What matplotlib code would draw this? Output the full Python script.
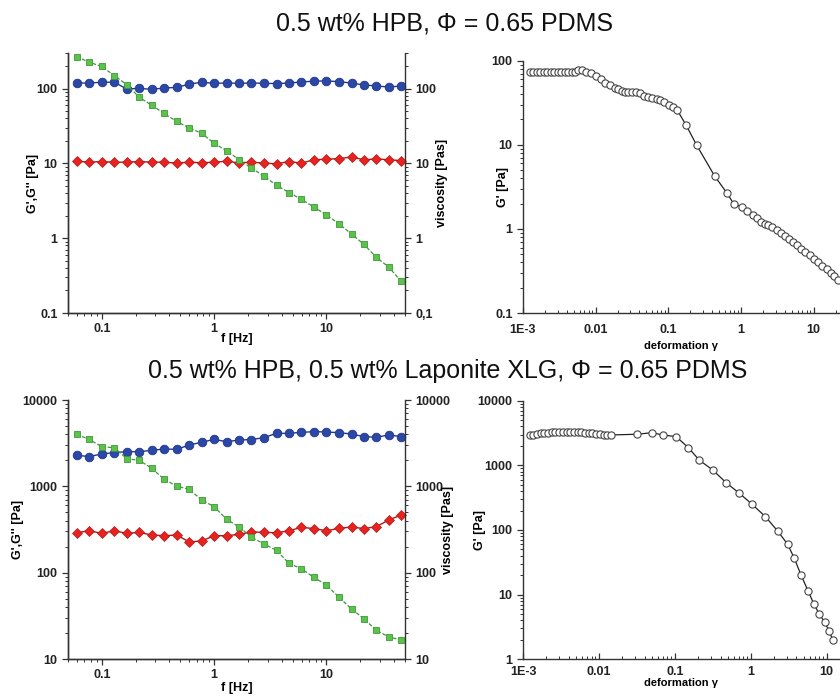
import matplotlib
matplotlib.use("Agg")
import matplotlib.pyplot as plt
from matplotlib.ticker import LogLocator, FixedLocator, FixedFormatter, NullFormatter

plt.rcParams['font.family'] = ['Liberation Sans', 'DejaVu Sans']

# ---------------- data ----------------
freq = [0.06, 0.077, 0.1, 0.129, 0.167, 0.215, 0.278, 0.359, 0.464, 0.599, 0.774, 1.0,
        1.29, 1.67, 2.15, 2.78, 3.59, 4.64, 5.99, 7.74, 10.0, 12.9, 16.7, 21.5, 27.8, 35.9, 46.4]

# top: 0.5 wt% HPB
top_Gp = [119, 119, 122, 122, 99, 101, 98, 102, 104, 115, 122, 118, 119, 118, 119, 118,
          117, 119, 123, 126, 127, 124, 119, 112, 109, 105, 109]
top_Gpp = [10.7, 10.4, 10.6, 10.4, 10.4, 10.6, 10.4, 10.4, 10.1, 10.4, 10.2, 10.4, 10.7,
           10.2, 10.4, 10.1, 9.9, 10.6, 10.1, 11.2, 11.4, 11.6, 12.2, 11.2, 11.5, 11.2, 10.9]
top_visc = [267, 226, 198, 150, 113, 77, 60, 46.6, 36.4, 29.9, 25.3, 18.6, 14.8, 11.2,
            8.65, 6.76, 5.11, 4.08, 3.31, 2.61, 2.04, 1.56, 1.14, 0.83, 0.555, 0.41, 0.264]

top_strain = [0.00125, 0.00139, 0.00155, 0.00173, 0.00193, 0.00216, 0.00241, 0.00269,
              0.0030, 0.00334, 0.00373, 0.00417, 0.00465, 0.00519,
              0.00577, 0.00641, 0.00728, 0.00853, 0.0101, 0.0117, 0.0136, 0.0157, 0.0184,
              0.0205, 0.0228, 0.0253, 0.0281, 0.0319, 0.0358, 0.0406, 0.0461, 0.053, 0.060,
              0.069, 0.0766, 0.0879, 0.102, 0.117, 0.132, 0.175, 0.245, 0.437, 0.634, 0.798,
              1.02, 1.22, 1.44, 1.67, 1.88, 2.13, 2.37, 2.69, 3.09, 3.54, 4.02, 4.60, 5.23,
              5.93, 6.73, 7.64, 8.79, 10.07, 11.4, 13.1, 15.0, 17.1, 19.0, 21.3]
top_Gstrain = [74, 74, 74, 74, 74, 74, 74, 74, 74, 74, 74, 74, 74, 74,
               77, 77, 74, 71, 65, 60, 55, 52, 48, 46, 44, 43, 43, 43, 43, 41, 38, 37, 36,
               35, 34, 32, 30, 28, 26, 17.2, 9.9, 4.2, 2.7, 1.97, 1.83, 1.63, 1.46, 1.33,
               1.22, 1.13, 1.11, 1.04, 0.97, 0.89, 0.82, 0.76, 0.70, 0.64, 0.58, 0.53,
               0.49, 0.44, 0.40, 0.366, 0.33, 0.30, 0.275, 0.25]

# bottom: 0.5 wt% HPB, 0.5 wt% Laponite XLG
bot_Gp = [2290, 2210, 2370, 2460, 2520, 2520, 2610, 2710, 2680, 3010, 3240, 3500, 3290,
          3440, 3480, 3670, 4110, 4110, 4220, 4300, 4260, 4180, 4040, 3760, 3700, 3940, 3760]
bot_Gpp = [290, 306, 285, 306, 285, 293, 273, 268, 273, 227, 233, 268, 268, 278, 296,
           293, 290, 306, 335, 324, 306, 326, 338, 324, 341, 408, 466]
bot_visc = [4000, 3500, 2880, 2800, 2090, 2000, 1620, 1205, 1008, 923, 695, 581, 415,
            338, 257, 215, 181, 128, 111, 88, 72, 52, 38, 29.3, 21.5, 18.0, 16.6]

bot_strain = [0.00122, 0.00137, 0.00153, 0.00171, 0.00191, 0.00214, 0.00239, 0.00268,
              0.0030, 0.00335, 0.00375, 0.0042, 0.00469, 0.00525, 0.00587, 0.00656,
              0.00735, 0.00822, 0.0092, 0.0103, 0.0115, 0.0129, 0.0144,
              0.0322, 0.0498, 0.0695, 0.104, 0.151, 0.209, 0.316, 0.473, 0.708, 1.03,
              1.56, 2.26, 3.07, 3.75, 4.59, 5.68, 6.81, 8.0, 9.42, 10.8, 12.0]
bot_Gstrain = [2950, 3000, 3060, 3110, 3160, 3200, 3240, 3270, 3290, 3310, 3320, 3320,
               3310, 3290, 3260, 3220, 3180, 3130, 3080, 3030, 2990, 2960, 2950,
               3030, 3200, 2950, 2780, 1880, 1210, 848, 540, 370, 253, 161, 96.6, 60,
               36.5, 20.2, 11.5, 7.1, 5.03, 3.74, 2.75, 2.0]

titles = ["0.5 wt% HPB, Φ = 0.65 PDMS",
          "0.5 wt% HPB, 0.5 wt% Laponite XLG, Φ = 0.65 PDMS"]

# ---------------- style ----------------
BLUE = '#2c48a6'
BLUE_E = '#22378a'
RED = '#e8231f'
RED_E = '#b01818'
GREEN = '#5cc24a'
GREEN_E = '#3a9a38'
TICKFS = 9
LABFS = 9

W, H = 840, 696
fig = plt.figure(figsize=(W / 100, H / 100), dpi=100)


def rect(l, r, t, b):
    return [l / W, 1 - b / H, (r - l) / W, (b - t) / H]


def place_ylabel(ax, r, x_px):
    l, rr, t, b = r
    ax.yaxis.set_label_coords((x_px - l) / (rr - l), 0.5)
    ax.yaxis.label.set_va('center')
    ax.yaxis.label.set_ha('center')


def place_xlabel(ax, r, y_px):
    l, rr, t, b = r
    ax.xaxis.set_label_coords(0.5, -(y_px - b) / (b - t))
    ax.xaxis.label.set_va('center')


def style_ax(ax, spines_on, xdir='out', xpad=3.5, ypad=3.5):
    for s in ['left', 'right', 'top', 'bottom']:
        ax.spines[s].set_visible(s in spines_on)
        ax.spines[s].set_linewidth(1.0)
        ax.spines[s].set_color('#333333')
    ax.tick_params(which='major', direction='out', length=4, width=0.9,
                   labelsize=TICKFS, colors='#333333', labelcolor='#222222')
    ax.tick_params(which='minor', direction='out', length=2.2, width=0.7, colors='#333333')
    ax.tick_params(axis='x', which='both', direction=xdir, pad=xpad)
    ax.tick_params(axis='y', which='major', pad=ypad)
    for lab in ax.get_xticklabels() + ax.get_yticklabels():
        lab.set_fontweight('bold')


def freq_panel(r, Gp, Gpp, visc, ylim, yticks, ylabels_l, ylabels_r, ylx, yrx, xly):
    ax = fig.add_axes(rect(*r))
    ax.set_xscale('log')
    ax.set_yscale('log')
    ax.plot(freq, Gp, '-', color=BLUE_E, lw=1.0, marker='o', ms=6.2,
            mfc=BLUE, mec=BLUE_E, mew=0.6, zorder=3, clip_on=False)
    ax.plot(freq, Gpp, '-', color=RED_E, lw=1.0, marker='D', ms=4.6,
            mfc=RED, mec=RED_E, mew=0.5, zorder=3, clip_on=False)
    ax.set_xlim(0.05, 50)
    ax.set_ylim(*ylim)
    ax.yaxis.set_major_locator(FixedLocator(yticks))
    ax.yaxis.set_major_formatter(FixedFormatter(ylabels_l))
    ax.yaxis.set_minor_locator(LogLocator(base=10, subs=range(2, 10), numticks=20))
    ax.yaxis.set_minor_formatter(NullFormatter())
    ax.xaxis.set_major_locator(FixedLocator([0.1, 1, 10]))
    ax.xaxis.set_major_formatter(FixedFormatter(['0.1', '1', '10']))
    ax.xaxis.set_minor_locator(LogLocator(base=10, subs=range(2, 10), numticks=20))
    ax.xaxis.set_minor_formatter(NullFormatter())
    ax.set_ylabel("G',G'' [Pa]", fontsize=LABFS, fontweight='bold')
    ax.set_xlabel("f [Hz]", fontsize=LABFS, fontweight='bold')
    place_ylabel(ax, r, ylx)
    place_xlabel(ax, r, xly)
    style_ax(ax, ['left', 'bottom'])

    ax2 = ax.twinx()
    ax2.set_yscale('log')
    ax2.plot(freq, visc, '--', color=GREEN_E, lw=0.9, dashes=(3, 1.5), marker='s', ms=4.6,
             mfc=GREEN, mec=GREEN_E, mew=0.6, zorder=4, clip_on=False)
    ax2.set_ylim(*ylim)
    ax2.yaxis.set_major_locator(FixedLocator(yticks))
    ax2.yaxis.set_major_formatter(FixedFormatter(ylabels_r))
    ax2.yaxis.set_minor_locator(LogLocator(base=10, subs=range(2, 10), numticks=20))
    ax2.yaxis.set_minor_formatter(NullFormatter())
    ax2.set_ylabel("viscosity [Pas]", fontsize=LABFS, fontweight='bold')
    place_ylabel(ax2, r, yrx)
    style_ax(ax2, ['right', 'left', 'bottom'])
    return ax, ax2


def strain_panel(r, x, y, xlim, ylim, yticks, ylabels, ylx, xly, xpad):
    ax = fig.add_axes(rect(*r))
    ax.set_xscale('log')
    ax.set_yscale('log')
    ax.plot(x, y, '-', color='#222222', lw=0.9, marker='o', ms=5.2,
            mfc='white', mec='#444444', mew=0.8)
    ax.set_xlim(*xlim)
    ax.set_ylim(*ylim)
    ax.xaxis.set_major_locator(FixedLocator([1e-3, 1e-2, 0.1, 1, 10]))
    ax.xaxis.set_major_formatter(FixedFormatter(['1E-3', '0.01', '0.1', '1', '10']))
    ax.xaxis.set_minor_locator(LogLocator(base=10, subs=range(2, 10), numticks=20))
    ax.xaxis.set_minor_formatter(NullFormatter())
    ax.yaxis.set_major_locator(FixedLocator(yticks))
    ax.yaxis.set_major_formatter(FixedFormatter(ylabels))
    ax.yaxis.set_minor_locator(LogLocator(base=10, subs=range(2, 10), numticks=20))
    ax.yaxis.set_minor_formatter(NullFormatter())
    ax.set_ylabel("G' [Pa]", fontsize=LABFS, fontweight='bold')
    ax.set_xlabel("deformation γ", fontsize=8, fontweight='bold')
    place_ylabel(ax, r, ylx)
    place_xlabel(ax, r, xly)
    style_ax(ax, ['left', 'bottom'], xdir='in', xpad=xpad, ypad=3.5)
    return ax


# panel rectangles in pixels: (left, right, top, bottom)
R_TL = (68, 405, 53, 313)
R_TR = (523, 840, 60.7, 313)
R_BL = (68, 405, 400, 659)
R_BR = (523, 840, 400.7, 659.3)

# top row
freq_panel(R_TL, top_Gp, top_Gpp, top_visc, (0.1, 300),
           [0.1, 1, 10, 100], ['0.1', '1', '10', '100'], ['0,1', '1', '10', '100'],
           ylx=33, yrx=442, xly=339)
strain_panel(R_TR, top_strain, top_Gstrain, (1e-3, 23), (0.1, 100),
             [0.1, 1, 10, 100], ['0.1', '1', '10', '100'], ylx=503, xly=346, xpad=8)

# bottom row
freq_panel(R_BL, bot_Gp, bot_Gpp, bot_visc, (10, 10000),
           [10, 100, 1000, 10000], ['10', '100', '1000', '10000'],
           ['10', '100', '1000', '10000'], ylx=18, yrx=448, xly=688)
strain_panel(R_BR, bot_strain, bot_Gstrain, (1e-3, 15), (1, 10000),
             [1, 10, 100, 1000, 10000], ['1', '10', '100', '1000', '10000'],
             ylx=480, xly=683, xpad=5)

fig.text(445 / W, 1 - 24 / H, titles[0], ha='center', va='center', fontsize=18, color='#111111')
fig.text(448 / W, 1 - 371 / H, titles[1], ha='center', va='center', fontsize=18, color='#111111')

fig.savefig('out.png', dpi=100)
